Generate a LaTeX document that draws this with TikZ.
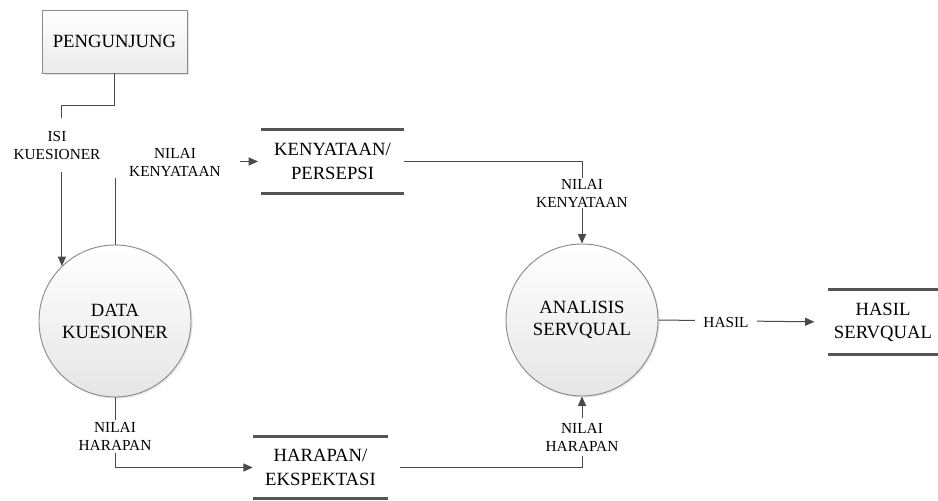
\documentclass[tikz,border=0pt]{standalone}
\usepackage{fontspec}
\setmainfont{Liberation Serif}
\newfontfamily\dgmfont{Liberation Serif}
\usetikzlibrary{arrows.meta,shadows}
\definecolor{linegray}{HTML}{4A4A4A}
\definecolor{edgegray}{HTML}{8A8A8A}
\definecolor{storegray}{HTML}{555555}
\tikzset{
  proc/.style={circle, draw=edgegray, line width=0.7pt, top color=white, bottom color=gray!20,
    minimum size=114pt, inner sep=0pt, align=center, font=\dgmfont\fontsize{14}{16.5}\selectfont,
    drop shadow={opacity=0.18, shadow xshift=1.2pt, shadow yshift=-1.2pt}},
  ent/.style={rectangle, draw=edgegray, line width=0.7pt, top color=white, bottom color=gray!16,
    minimum width=108.75pt, minimum height=47.25pt, inner sep=0pt, font=\dgmfont\fontsize{14}{17}\selectfont,
    drop shadow={opacity=0.22, shadow xshift=1.5pt, shadow yshift=-1.5pt}},
  datastore/.style={rectangle, inner sep=0pt, align=center, font=\dgmfont\fontsize{14}{17.5}\selectfont},
  storeline/.style={draw=storegray, line width=2.25pt},
  flow/.style={draw=linegray, line width=0.75pt, -{Triangle[length=7pt,width=6pt]}},
  flab/.style={fill=white, align=center, inner xsep=1pt, inner ysep=0pt, font=\dgmfont\fontsize{11.5}{13.5}\selectfont},
}
\begin{document}
\begin{tikzpicture}[x=0.75pt,y=-0.75pt]
\useasboundingbox (0,0) rectangle (938,500);
% nodes
\node[ent] (pg) at (114.5,41.5) {PENGUNJUNG};
\node[proc] (dk) at (115,321) {DATA\\KUESIONER};
\node[proc] (as) at (582,320) {ANALISIS\\SERVQUAL};
\node[datastore, minimum width=107.25pt, minimum height=47.25pt] (kp) at (332.5,161.5) {KENYATAAN/\\PERSEPSI};
\node[datastore, minimum width=82.5pt, minimum height=48pt] (hs) at (883,322) {HASIL\\SERVQUAL};
\node[datastore, minimum width=101.25pt, minimum height=45.75pt] (hp) at (320.5,467.5) {HARAPAN/\\EKSPEKTASI};
\foreach \s in {kp,hs,hp} {
  \draw[storeline] (\s.north west) -- (\s.north east);
  \draw[storeline] (\s.south west) -- (\s.south east);
}
% connectors
\draw[flow] (pg.south) -- ++(0,32) -| (dk.134);
\draw[flow, shorten >=2pt] (dk.north) |- (kp.west);
\draw[flow] (kp.east) -| (as.north);
\draw[flow, shorten >=10pt] (as.east) -- (hs.west);
\draw[flow] (dk.south) |- (hp.west);
\draw[flow, shorten <=9pt] (hp.east) -| (as.south);
% labels
\node[flab, minimum height=40pt] (l1) at (57,145) {ISI\\KUESIONER};
\node[flab, minimum width=97.5pt, minimum height=24pt] (l2) at (175,162) {NILAI\\KENYATAAN};
\node[flab, minimum height=22pt] (l3) at (582,193) {NILAI\\KENYATAAN};
\node[flab, minimum width=46.5pt] (l4) at (726,322) {HASIL};
\node[flab, minimum height=25pt] (l5) at (115,436.5) {NILAI\\HARAPAN};
\node[flab, minimum height=29pt] (l6) at (582,437) {NILAI\\HARAPAN};
\end{tikzpicture}
\end{document}
